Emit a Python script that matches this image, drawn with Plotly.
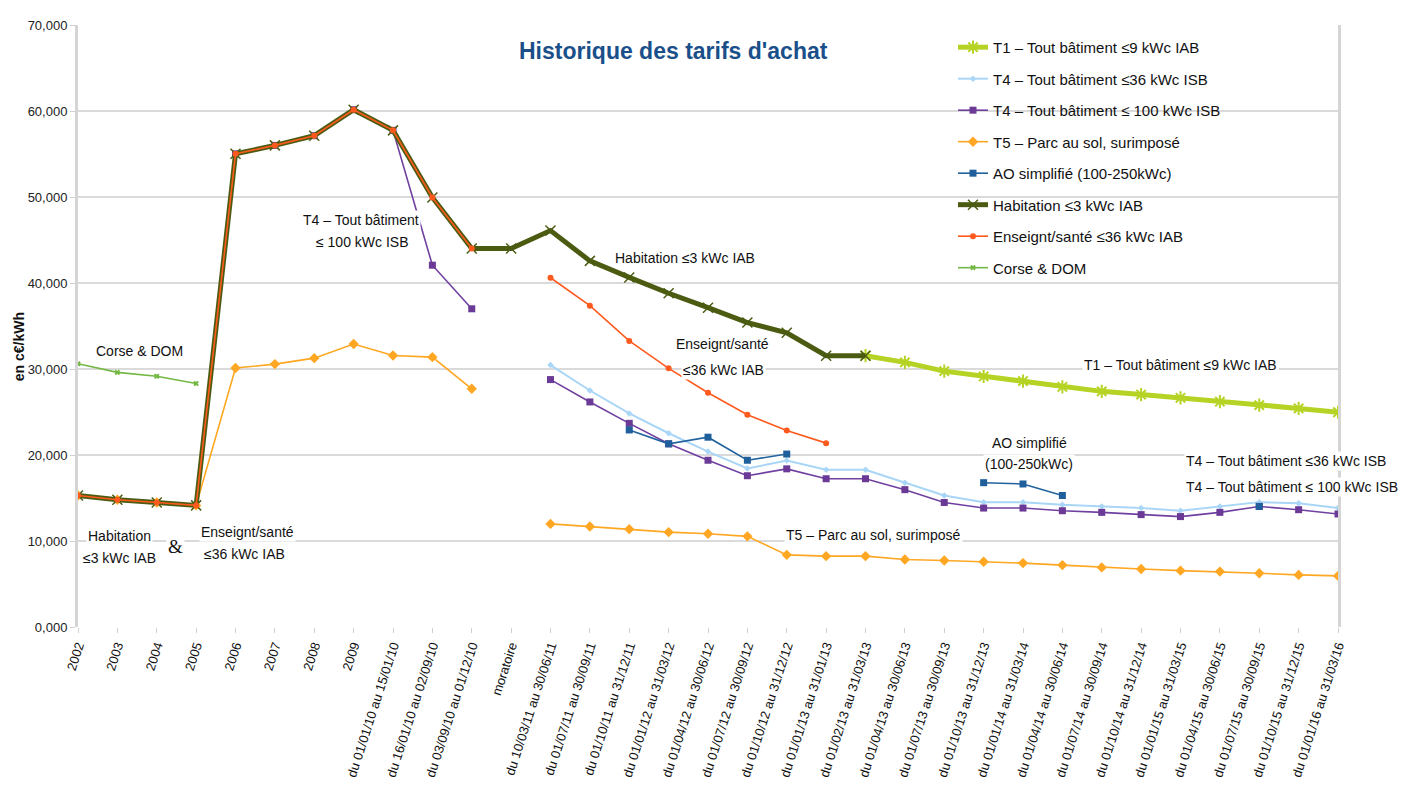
import plotly.graph_objects as go

categories = ["2002", "2003", "2004", "2005", "2006", "2007", "2008", "2009",
              "du 01/01/10 au 15/01/10", "du 16/01/10 au 02/09/10", "du 03/09/10 au 01/12/10",
              "moratoire",
              "du 10/03/11 au 30/06/11", "du 01/07/11 au 30/09/11", "du 01/10/11 au 31/12/11",
              "du 01/01/12 au 31/03/12", "du 01/04/12 au 30/06/12", "du 01/07/12 au 30/09/12",
              "du 01/10/12 au 31/12/12", "du 01/01/13 au 31/01/13", "du 01/02/13 au 31/03/13",
              "du 01/04/13 au 30/06/13", "du 01/07/13 au 30/09/13", "du 01/10/13 au 31/12/13",
              "du 01/01/14 au 31/03/14", "du 01/04/14 au 30/06/14", "du 01/07/14 au 30/09/14",
              "du 01/10/14 au 31/12/14", "du 01/01/15 au 31/03/15", "du 01/04/15 au 30/06/15",
              "du 01/07/15 au 30/09/15", "du 01/10/15 au 31/12/15", "du 01/01/16 au 31/03/16"]

N = None
t1 = [N] * 20 + [31.55, 30.77, 29.75, 29.13, 28.60, 27.93, 27.40, 27.03, 26.65, 26.20, 25.80, 25.42, 24.97]
t4_36 = [N] * 12 + [30.46, 27.50, 24.83, 22.53, 20.40, 18.43, 19.35, 18.28, 18.28, 16.76, 15.29,
                    14.52, 14.52, 14.21, 14.02, 13.83, 13.52, 14.02, 14.52, 14.40, 13.83]
t4_100 = [N] * 4 + [55.02, 56.00, 57.13, 60.15, 57.75, 42.07, 37.00, N,
                    28.77, 26.17, 23.68, 21.30, 19.39, 17.59, 18.39, 17.24, 17.24, 15.97, 14.48,
                    13.83, 13.83, 13.52, 13.33, 13.07, 12.84, 13.33, 14.02, 13.64, 13.14]
t5 = [15.29, 14.79, 14.48, 14.14, 30.11, 30.57, 31.26, 32.91, 31.57, 31.38, 27.70, N,
      11.99, 11.69, 11.38, 11.03, 10.84, 10.54, 8.39, 8.24, 8.24, 7.85, 7.74,
      7.59, 7.43, 7.20, 6.93, 6.74, 6.55, 6.44, 6.25, 6.06, 5.94]
ao = [N] * 14 + [22.91, 21.30, 22.07, 19.39, 20.11, N, N, N, N, 16.78, 16.63, 15.29,
                 N, N, N, N, 14.02, N, N]
habitation = [15.29, 14.79, 14.48, 14.14, 55.02, 56.00, 57.13, 60.15, 57.75, 49.95, 44.02, 44.02,
              46.10, 42.57, 40.65, 38.81, 37.13, 35.40, 34.21, 31.55, 31.55] + [N] * 12
enseignt = [15.29, 14.79, 14.48, 14.14, 55.02, 56.00, 57.13, 60.15, 57.75, 49.95, 44.02, N,
            40.61, 37.36, 33.26, 30.08, 27.24, 24.68, 22.84, 21.38] + [N] * 13
corse = [30.61, 29.61, 29.16, 28.31] + [N] * 29

names = ["T1 – Tout bâtiment ≤9 kWc IAB", "T4 – Tout bâtiment ≤36 kWc ISB",
         "T4 – Tout bâtiment ≤ 100 kWc ISB", "T5 – Parc au sol, surimposé",
         "AO simplifié (100-250kWc)", "Habitation ≤3 kWc IAB",
         "Enseignt/santé ≤36 kWc IAB", "Corse & DOM"]

OFF = 8  # page body margin
W, H = 1417 - OFF, 800 - OFF
L, R, T, B = 78 - OFF, 1338 - OFF, 18 - OFF, 627 - OFF

fig = go.Figure()

styles = [
    (t1, dict(color="#B5D324", width=5), dict(symbol="asterisk-open", size=11, line=dict(color="#B5D324", width=2))),
    (t4_36, dict(color="#A9D6F7", width=2), dict(symbol="diamond", size=5, color="#A9D6F7")),
    (t4_100, dict(color="#7040A0", width=1.6), dict(symbol="square", size=7, color="#6A3A96")),
    (t5, dict(color="#FFA722", width=1.6), dict(symbol="diamond", size=8, color="#FFA722")),
    (ao, dict(color="#22639E", width=1.6), dict(symbol="square", size=7, color="#1E5F9C")),
    (habitation, dict(color="#4B5C12", width=5), dict(symbol="x-thin-open", size=10, line=dict(color="#7C8C45", width=1.5))),
    (enseignt, dict(color="#FF5A1E", width=1.6), dict(symbol="circle", size=6, color="#FF5A1E")),
    (corse, dict(color="#74B844", width=1.6), dict(symbol="x", size=5, color="#74B844")),
]

for i, (vals, ln, mk) in enumerate(styles):
    fig.add_trace(go.Scatter(x=categories, y=vals, name=names[i], mode="lines+markers",
                             line=ln, marker=mk, connectgaps=False, legendgroup=str(i)))


def px(xp, yp):
    xp -= OFF
    yp -= OFF
    return (xp - L) / (R - L), (B - yp) / (B - T)


labels = [
    ("T4 – Tout bâtiment", 361, 215, 14, "Liberation Sans"),
    ("≤ 100 kWc ISB", 362, 238, 14, "Liberation Sans"),
    ("Habitation ≤3 kWc IAB", 685, 254, 14, "Liberation Sans"),
    ("Enseignt/santé", 722, 341, 14, "Liberation Sans"),
    ("≤36 kWc IAB", 723, 367, 14, "Liberation Sans"),
    ("Corse & DOM", 139, 348, 14, "Liberation Sans"),
    ("Habitation", 119, 535, 14, "Liberation Sans"),
    ("≤3 kWc IAB", 119, 557, 14, "Liberation Sans"),
    ("&", 175, 546, 19, "Liberation Serif"),
    ("Enseignt/santé", 247, 531, 14, "Liberation Sans"),
    ("≤36 kWc IAB", 244, 553, 14, "Liberation Sans"),
    ("T1 – Tout bâtiment ≤9 kWc IAB", 1180, 362, 14, "Liberation Sans"),
    ("AO simplifié", 1029, 441, 14, "Liberation Sans"),
    ("(100-250kWc)", 1029, 462, 14, "Liberation Sans"),
    ("T4 – Tout bâtiment ≤36 kWc ISB", 1286, 459, 14, "Liberation Sans"),
    ("T4 – Tout bâtiment ≤ 100 kWc ISB", 1292, 485, 14, "Liberation Sans"),
    ("T5 – Parc au sol, surimposé", 873, 534, 14, "Liberation Sans"),
]
for text, xp, yp, fs, fam in labels:
    ax, ay = px(xp, yp)
    fig.add_annotation(text=text, x=ax, y=ay, xref="paper", yref="paper", showarrow=False,
                       xanchor="center", yanchor="middle", bgcolor="white", borderpad=1,
                       font=dict(family=fam, size=fs, color="#111111"))

# title
tx, ty = px(673, 44)
fig.add_annotation(text="<b>Historique des tarifs d'achat</b>", x=tx, y=ty, xref="paper", yref="paper",
                   showarrow=False, xanchor="center", yanchor="middle",
                   font=dict(family="Liberation Sans", size=23, color="#1A4F8A"))
# y axis title
yx, yy = px(19, 344)
fig.add_annotation(text="<b>en c€/kWh</b>", x=yx, y=yy, xref="paper", yref="paper", textangle=-90,
                   showarrow=False, xanchor="center", yanchor="middle",
                   font=dict(family="Liberation Sans", size=14, color="#111111"))

lx, ly = px(953, 24)
fig.update_layout(
    width=W, height=H,
    margin=dict(l=L, r=W - R, t=T, b=H - B),
    paper_bgcolor="white", plot_bgcolor="white",
    separators=",.",
    showlegend=True,
    legend=dict(x=lx, y=ly, xanchor="left", yanchor="top", bgcolor="rgba(0,0,0,0)",
                font=dict(family="Liberation Sans", size=15, color="#111111"),
                traceorder="grouped", tracegroupgap=9, itemwidth=30),
    xaxis=dict(type="category", range=[0, len(categories) - 1], showgrid=False,
               tickangle=-72, tickfont=dict(family="Liberation Sans", size=13, color="#111111"),
               ticks="outside", ticklen=5, tickcolor="#D0D0D0", showline=False, zeroline=False),
    yaxis=dict(range=[0, 70], dtick=10, tickformat=".3f", showgrid=True, gridcolor="#DADADA",
               gridwidth=2, showline=True, linecolor="#D5D5D5", linewidth=3, mirror=True,
               ticks="outside", ticklen=5, tickcolor="#D0D0D0", zeroline=False,
               tickfont=dict(family="Liberation Sans", size=13, color="#222222")),
)

fig.write_html("out.html")
